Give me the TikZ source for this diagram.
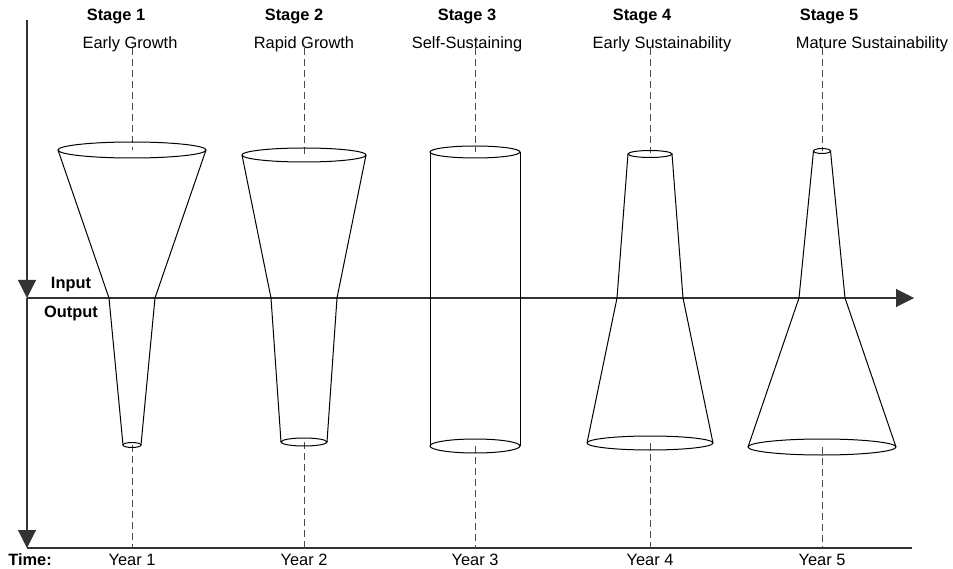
\documentclass[tikz,border=0pt]{standalone}
\usepackage{fontspec}
\setmainfont{Liberation Sans}
\usetikzlibrary{arrows.meta}
\begin{document}
\begin{tikzpicture}[x=1pt,y=-1pt,line width=1pt,
  lbl/.style={inner sep=0pt,anchor=base,font=\fontsize{16.4}{19}\selectfont},
  blbl/.style={lbl,font=\fontsize{16.4}{19}\selectfont\bfseries},
  guide/.style={dash pattern=on 7pt off 4pt,line width=1pt,draw=black!70},
  axis/.style={draw=black!80,line width=1.1pt},
  tip/.style={-{Triangle[length=18pt,width=18pt]}},
  outline/.style={draw=black,line width=1pt}]
\useasboundingbox (0,0) rectangle (953,569);
% axes
\coordinate (vtop) at (27,20);
\coordinate (origin) at (27,298);
\coordinate (hend) at (914,298);
\coordinate (vbot) at (27,548);
\coordinate (bend) at (912,548);
\draw[axis,tip] (vtop) -- (origin);
\draw[axis,tip] (origin) -- (vbot);
\draw[axis,tip] (origin) -- (hend);
\draw[axis] (vbot) -- (bend);
% axis labels
\node[blbl] (input) at (71,289) {Input};
\node[blbl] (output) at (71,318) {Output};
\node[blbl] (time) at (30,565) {Time:};
% stage labels
\node[blbl] (s1) at (116,21) {Stage 1};
\node[blbl] (s2) at (294,21) {Stage 2};
\node[blbl] (s3) at (467,21) {Stage 3};
\node[blbl] (s4) at (642,21) {Stage 4};
\node[blbl] (s5) at (829,21) {Stage 5};
\node[lbl] (t1) at (130,49) {Early Growth};
\node[lbl] (t2) at (304,49) {Rapid Growth};
\node[lbl] (t3) at (467,49) {Self-Sustaining};
\node[lbl] (t4) at (662,49) {Early Sustainability};
\node[lbl] (t5) at (872,49) {Mature Sustainability};
\node[lbl] (y1) at (132,565) {Year 1};
\node[lbl] (y2) at (304,565) {Year 2};
\node[lbl] (y3) at (475,565) {Year 3};
\node[lbl] (y4) at (650,565) {Year 4};
\node[lbl] (y5) at (822,565) {Year 5};
% guides
\foreach \x/\top/\bot in {132/150/445, 304/155/442, 475/152/446, 650/153/443, 822/151/447}{
  \draw[guide] (\x,48) -- (\x,\top);
  \draw[guide] (\x,\bot) -- (\x,548);
}
% Stage 1
\draw[outline] (132,150) ellipse [x radius=74pt, y radius=8pt];
\draw[outline] (58,150) -- (109,298) -- (123,445);
\draw[outline] (206,150) -- (155,298) -- (141,445);
\draw[outline] (132,445) ellipse [x radius=9pt, y radius=2.5pt];
% Stage 2
\draw[outline] (304,155) ellipse [x radius=62pt, y radius=7pt];
\draw[outline] (242,155) -- (271,298) -- (281,442);
\draw[outline] (366,155) -- (337,298) -- (327,442);
\draw[outline] (304,442) ellipse [x radius=23pt, y radius=4pt];
% Stage 3
\draw[outline] (475,152) ellipse [x radius=45pt, y radius=6pt];
\draw[outline] (430,152) -- (430,446);
\draw[outline] (520,152) -- (520,446);
\draw[outline] (475,446) ellipse [x radius=45pt, y radius=7pt];
% Stage 4
\draw[outline] (650,154) ellipse [x radius=22pt, y radius=3.5pt];
\draw[outline] (628,154) -- (617,298) -- (587,443);
\draw[outline] (672,154) -- (683,298) -- (713,443);
\draw[outline] (650,443) ellipse [x radius=63pt, y radius=7pt];
% Stage 5
\draw[outline] (822,151) ellipse [x radius=8.5pt, y radius=2.5pt];
\draw[outline] (813.5,151) -- (799,298) -- (748,447);
\draw[outline] (830.5,151) -- (845,298) -- (896,447);
\draw[outline] (822,447) ellipse [x radius=74pt, y radius=8pt];
\end{tikzpicture}
\end{document}
